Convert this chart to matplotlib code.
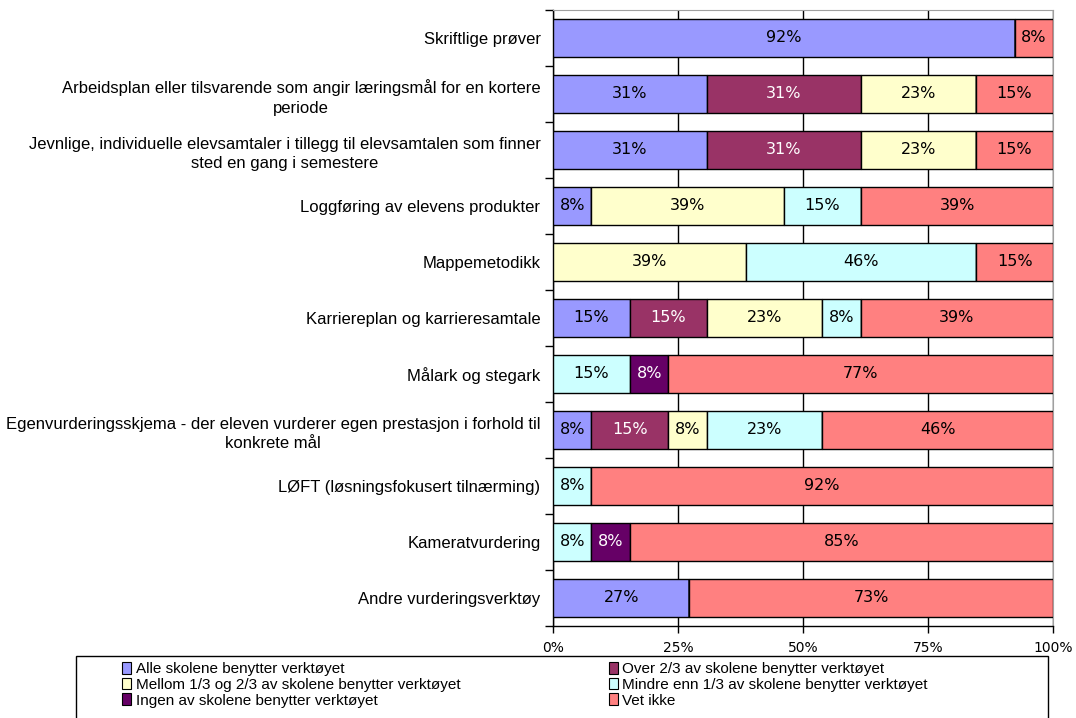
import matplotlib.pyplot as plt
import matplotlib.patches as mpatches
import numpy as np

categories = [
    "Skriftlige prøver",
    "Arbeidsplan eller tilsvarende som angir læringsmål for en kortere\nperiode",
    "Jevnlige, individuelle elevsamtaler i tillegg til elevsamtalen som finner\nsted en gang i semestere",
    "Loggføring av elevens produkter",
    "Mappemetodikk",
    "Karriereplan og karrieresamtale",
    "Målark og stegark",
    "Egenvurderingsskjema - der eleven vurderer egen prestasjon i forhold til\nkonkrete mål",
    "LØFT (løsningsfokusert tilnærming)",
    "Kameratvurdering",
    "Andre vurderingsverktøy",
]

series_names = [
    "Alle skolene benytter verktøyet",
    "Over 2/3 av skolene benytter verktøyet",
    "Mellom 1/3 og 2/3 av skolene benytter verktøyet",
    "Mindre enn 1/3 av skolene benytter verktøyet",
    "Ingen av skolene benytter verktøyet",
    "Vet ikke",
]

alle   = [92.31, 30.77, 30.77, 7.69, 0, 15.38, 0, 7.69, 0, 0, 27.27]
over   = [0, 30.77, 30.77, 0, 0, 15.38, 0, 15.38, 0, 0, 0]
mellom = [0, 23.08, 23.08, 38.5, 38.5, 23.08, 0, 7.69, 0, 0, 0]
mindre = [0, 0, 0, 15.38, 46.15, 7.69, 15.38, 23.08, 7.69, 7.69, 0]
ingen  = [0, 0, 0, 0, 0, 0, 7.69, 0, 0, 7.69, 0]
vet    = [7.69, 15.38, 15.38, 38.5, 15.38, 38.5, 76.92, 46.15, 92.31, 84.62, 72.73]

colors = ["#9999FF", "#993366", "#FFFFCC", "#CCFFFF", "#660066", "#FF8080"]
text_colors = ["black", "white", "black", "black", "white", "black"]

fig = plt.figure(figsize=(10.76, 7.18), dpi=100)
ax = fig.add_axes([553/1076, 1-626/718, 500/1076, 616/718])

data = [alle, over, mellom, mindre, ingen, vet]
y = np.arange(len(categories))
left = np.zeros(len(categories))
bars = []
for vals, col, tcol, name in zip(data, colors, text_colors, series_names):
    vals = np.array(vals)
    b = ax.barh(y, vals, left=left, height=0.68, color=col, edgecolor="black",
                linewidth=1, label=name, zorder=3)
    bars.append(b)
    for yi, (l, v) in enumerate(zip(left, vals)):
        if v > 0:
            ax.text(l + v/2, yi, "%d%%" % int(v + 0.5), ha="center", va="center",
                    color=tcol, fontsize=11.5, family="DejaVu Sans", zorder=4)
    left += vals

ax.set_xlim(0, 100)
ax.set_ylim(len(categories) - 0.5, -0.5)

ax.set_xticks([0, 25, 50, 75, 100])
ax.set_xticklabels(["0%", "25%", "50%", "75%", "100%"], fontsize=10, family="DejaVu Sans")
ax.tick_params(axis="x", direction="out", length=5, width=1, pad=6)
ax.grid(axis="x", color="black", linewidth=1, zorder=0)

ax.set_yticks(np.arange(len(categories) + 1) - 0.5)
ax.set_yticklabels([])
ax.tick_params(axis="y", which="major", direction="out", length=6, width=1)
ax.set_yticks(y, minor=True)
ax.set_yticklabels(categories, minor=True, fontsize=12, family="Liberation Sans",
                   multialignment="center", linespacing=1.4)
ax.tick_params(axis="y", which="minor", length=0, pad=9)

ax.spines["top"].set_color("#A0A0A0")
ax.spines["right"].set_color("#A0A0A0")
ax.spines["left"].set_linewidth(1)
ax.spines["bottom"].set_linewidth(1)

# legend box, runs past the bottom edge like the original
box = mpatches.Rectangle((76/1076, 1-760/718), (1048-76)/1076, (760-656)/718,
                         transform=fig.transFigure, fill=False, edgecolor="black",
                         linewidth=1, clip_on=False)
fig.patches.append(box)

order = [0, 2, 4, 1, 3, 5]
handles = [bars[i] for i in order]
labels = [series_names[i] for i in order]
leg = fig.legend(handles, labels, ncol=2, loc="upper left",
                 bbox_to_anchor=(122/1076, 1-662/718), frameon=False,
                 prop={"family": "Liberation Sans", "size": 11},
                 handlelength=0.6, handleheight=0.8,
                 handletextpad=0.3, labelspacing=0.1, columnspacing=9.7,
                 borderpad=0, borderaxespad=0)
for h in leg.legend_handles:
    h.set_linewidth(0.8)

fig.savefig("out.png", dpi=100)
